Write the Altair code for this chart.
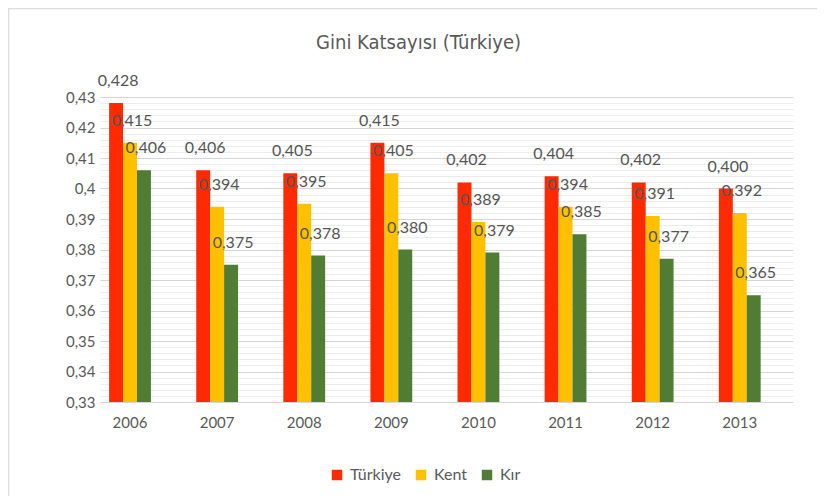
import altair as alt
import pandas as pd

years = ["2006", "2007", "2008", "2009", "2010", "2011", "2012", "2013"]
series = ["Türkiye", "Kent", "Kır"]
turkiye = [0.428, 0.406, 0.405, 0.415, 0.402, 0.404, 0.402, 0.400]
kent = [0.415, 0.394, 0.395, 0.405, 0.389, 0.394, 0.391, 0.392]
kir = [0.406, 0.375, 0.378, 0.380, 0.379, 0.385, 0.377, 0.365]
colors = ["#FF2A00", "#FFC000", "#507C34"]
y_ticks = [round(0.33 + 0.002 * i, 3) for i in range(51)]

rows = []
for name, vals in zip(series, [turkiye, kent, kir]):
    for yr, v in zip(years, vals):
        rows.append({"Yil": yr, "Seri": name, "Deger": v})
df = pd.DataFrame(rows)

font = "Lato"
gray = "#595959"
major = "abs(datum.value*100 - round(datum.value*100)) < 0.01"

x = alt.X("Yil:N", sort=years, title=None,
          scale=alt.Scale(paddingInner=0.52, paddingOuter=0.238, align=0.22),
          axis=alt.Axis(labelAngle=0, domain=False, ticks=False, labelPadding=13,
                        labelFont=font, labelFontSize=15, labelColor=gray))
y = alt.Y("Deger:Q", title=None,
          scale=alt.Scale(domain=[0.33, 0.43], zero=False, nice=False),
          axis=alt.Axis(values=y_ticks, domain=False, ticks=False, labelPadding=5,
                        labelOverlap=False, labelFont=font, labelFontSize=15, labelColor=gray,
                        labelExpr=major + " ? replace(format(datum.value, '.2~f'), '.', ',') : ''",
                        gridColor={"condition": {"test": major, "value": "#d6d6d6"}, "value": "#ececec"},
                        gridWidth=1))
color = alt.Color("Seri:N", sort=series,
                  scale=alt.Scale(domain=series, range=colors),
                  legend=alt.Legend(title=None, orient="none", direction="horizontal",
                                    legendX=229, legendY=370, symbolType="square",
                                    symbolSize=110, symbolStrokeWidth=0, labelFont=font,
                                    labelFontSize=16, labelColor=gray, columnPadding=12,
                                    labelOffset=5))
xoff = alt.XOffset("Seri:N", sort=series, scale=alt.Scale(domain=series))

bars = alt.Chart(df).mark_bar().encode(
    x=x, xOffset=xoff, y=y, y2=alt.datum(0.33), color=color
)

labels = alt.Chart(df).transform_calculate(
    etiket="replace(format(datum.Deger, '.3f'), '.', ',')"
).mark_text(baseline="bottom", dy=-14, dx=2, font=font, fontSize=16, color="#555555").encode(
    x=x, xOffset=xoff, y=y, text="etiket:N"
)

frame_src = pd.DataFrame({"k": [0]})
frame_left = alt.Chart(frame_src).mark_rule(color="#dcdcdc", strokeWidth=1.5).encode(
    x=alt.value(-91.5), y=alt.value(-89), y2=alt.value(399)
)
frame_top = alt.Chart(frame_src).mark_rule(color="#dcdcdc", strokeWidth=1.5).encode(
    x=alt.value(-92), x2=alt.value(717), y=alt.value(-88.5)
)

chart = alt.layer(bars, labels, frame_left, frame_top).properties(
    width=693, height=305,
    title=alt.TitleParams("Gini Katsayısı (Türkiye)", font="DejaVu Sans Condensed",
                          fontSize=20, fontWeight="normal", color=gray,
                          anchor="middle", dx=-28, offset=-46),
    autosize=alt.AutoSizeParams(type="none"),
    padding={"left": 92, "top": 89, "right": 24, "bottom": 94},
).configure(background="white").configure_view(strokeWidth=0)

chart.save("out.html", embed_options={"renderer": "svg", "actions": False})
